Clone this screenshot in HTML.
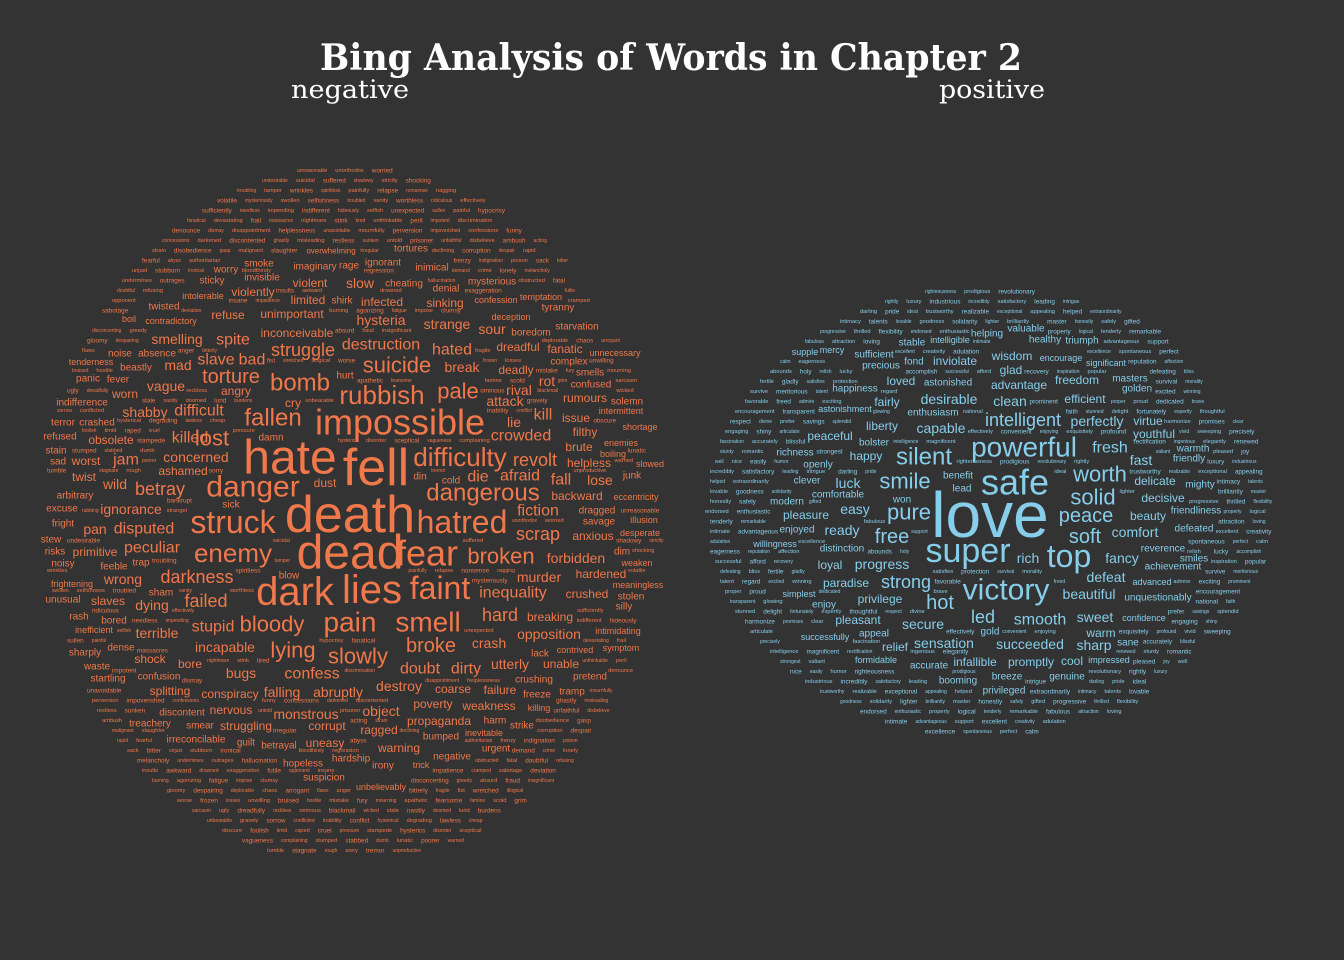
<!DOCTYPE html>
<html><head><meta charset="utf-8">
<style>
html,body{margin:0;padding:0;background:#333333;}
svg{display:block;}
</style></head>
<body>
<svg id="cloud" width="1344" height="960" viewBox="0 0 1344 960" xmlns="http://www.w3.org/2000/svg">
<rect x="0" y="0" width="1344" height="960" fill="#333333"/>
<text x="671" y="70" text-anchor="middle" textLength="702" lengthAdjust="spacingAndGlyphs" font-family="DejaVu Serif, Liberation Serif, serif" font-weight="bold" font-size="36" fill="#ffffff">Bing Analysis of Words in Chapter 2</text>
<text x="350" y="98" text-anchor="middle" textLength="118" lengthAdjust="spacingAndGlyphs" font-family="DejaVu Serif, Liberation Serif, serif" font-size="25" fill="#ffffff">negative</text>
<text x="992" y="98" text-anchor="middle" textLength="106" lengthAdjust="spacingAndGlyphs" font-family="DejaVu Serif, Liberation Serif, serif" font-size="25" fill="#ffffff">positive</text>
<g id="neg"></g>
<g id="pos"></g>
</svg>
<script>
// word, x, y, size
const negWords = [
["death",350,515,52],["dead",350,553,48],["hate",290,458,48],["fell",376,468,52],["impossible",400,422,36],
["dark",295,592,40],["lies",372,590,40],["fear",427,553,36],["hatred",462,522,32],["struck",233,522,32],
["danger",253,487,30],["pain",350,622,28],["smell",428,622,28],["faint",440,588,32],["difficulty",460,457,26],
["dangerous",483,493,24],["rubbish",382,395,26],["bomb",300,383,24],["suicide",397,365,22],["fallen",273,418,24],
["enemy",233,553,26],["bloody",272,624,22],["lying",293,650,22],["slowly",358,656,22],["broken",501,556,22],
["torture",231,377,20],["struggle",303,350,18],["destruction",381,345,16],["pale",458,391,22],
["killed",190,438,16],["lost",212,438,22],["concerned",196,457,14],["jam",126,460,16],["worst",86,461,12],["sad",58,462,10],
["obsolete",111,440,12],["ashamed",183,471,12],["wild",115,484,14],["betray",160,489,18],["twist",84,477,12],["ignorance",131,509,14],
["sick",231,505,10],["pan",95,529,14],["disputed",144,529,16],["primitive",95,552,12],["peculiar",152,548,16],["wrong",123,579,14],
["darkness",197,577,18],["feeble",114,567,10],["slaves",108,601,12],["dying",152,605,14],["failed",206,601,18],["stupid",213,627,16],
["terrible",157,633,14],["incapable",225,647,14],["shock",150,659,12],["bore",190,664,12],["bugs",241,673,14],["confess",312,674,16],
["splitting",170,691,12],["falling",282,692,14],["conspiracy",230,694,12],["abruptly",338,692,14],["monstrous",306,714,14],["nervous",231,710,12],
["object",381,711,14],["uneasy",325,743,12],["smear",200,726,10],["struggling",246,726,12],["corrupt",327,726,12],["guilt",246,743,10],
["betrayal",279,746,10],["hardship",351,759,10],["irony",383,766,10],["hopeless",303,764,10],["suspicion",324,778,10],["warning",399,748,12],
["ragged",379,730,12],["poverty",433,704,12],["propaganda",439,721,12],["bumped",441,737,10],["negative",452,757,10],["doubt",420,669,16],
["dirty",466,669,16],["utterly",510,664,14],["crash",489,643,14],["broke",431,646,20],["destroy",399,686,14],["coarse",453,689,12],
["failure",500,690,12],["weakness",489,706,12],["harm",495,721,10],["strike",522,726,10],["opposition",549,634,14],["hard",500,615,18],
["breaking",550,617,12],["inequality",513,593,16],["murder",539,577,14],["crushed",587,594,12],["scrap",538,534,18],["anxious",593,536,12],
["fiction",538,511,16],["backward",577,496,12],["lose",600,480,14],["fall",561,480,16],["afraid",520,476,16],["die",478,477,16],
["revolt",535,460,18],["helpless",589,463,12],["crowded",521,436,16],["lie",514,422,14],["kill",543,415,16],["issue",576,418,12],
["filthy",585,432,12],["brute",579,447,12],["attack",505,401,14],["rival",519,390,14],["rot",547,381,14],["confused",591,385,10],
["rumours",585,398,12],["hated",452,350,16],["break",462,367,14],["dreadful",518,347,12],["deadly",516,370,12],["fanatic",565,349,12],
["strange",447,324,14],["sour",492,329,14],["sinking",445,303,12],["hysteria",381,320,14],["infected",382,302,12],["inconceivable",297,333,12],
["spite",233,340,16],["smelling",177,339,14],["slave",216,360,16],["bad",252,360,16],["mad",178,365,14],["vague",166,386,14],
["shabby",145,412,14],["difficult",199,411,16],["limited",308,300,12],["unimportant",292,314,12],["refuse",228,315,12],["violently",253,292,12],
["angry",236,391,12],["worn",125,394,12],["noise",120,354,10],["absence",157,354,10],["fever",118,380,10],["panic",88,379,10],
["hurt",345,376,10],["cry",293,403,12],["damn",271,438,10],["dust",325,483,12],["sham",161,593,10],["blow",289,576,10],
["bored",114,621,10],["rash",79,617,10],["dense",121,648,10],["sharply",85,653,10],["waste",97,667,10],["startling",108,679,10],
["confusion",159,677,10],["discontent",182,713,10],["treachery",150,724,10],["irreconcilable",196,740,10],["fright",63,524,10],["excuse",62,509,10],
["arbitrary",75,496,10],["stain",56,451,10],["refused",60,437,10],["terror",63,423,10],["crashed",97,423,10],["indifference",82,403,10],
["tenderness",91,362,9],["beastly",136,368,10],["twisted",164,307,10],["contradictory",171,321,9],["boil",129,319,9],["stew",51,540,10],
["risks",55,552,10],["noisy",63,564,10],["unusual",63,600,10],["frightening",72,584,9],["trap",141,563,10],["inefficient",94,630,9],
["smells",590,373,10],["complex",569,362,10],["unnecessary",615,353,9],["starvation",577,327,10],["boredom",531,333,10],["deception",511,317,9],
["tyranny",558,308,10],["temptation",541,297,9],["confession",496,300,9],["mysterious",492,282,10],["denial",446,289,10],["cheating",404,284,10],
["slow",360,283,14],["violent",310,283,12],["shirk",342,301,10],["sticky",212,281,10],["intolerable",203,296,9],["invisible",262,278,10],
["worry",226,270,10],["smoke",259,264,10],["imaginary",315,267,10],["rage",349,266,10],["ignorant",383,263,10],["tortures",411,249,10],
["overwhelming",331,251,8],["inimical",432,268,10],["solemn",627,402,10],["intermittent",621,411,9],["shortage",640,427,9],["enemies",621,443,9],
["boiling",613,454,9],["slowed",650,464,9],["junk",632,476,10],["eccentricity",636,497,9],["dragged",597,511,10],["savage",599,522,10],
["illusion",644,520,9],["desperate",640,533,9],["dim",622,552,10],["weaken",637,563,9],["forbidden",576,558,14],["hardened",601,574,12],
["meaningless",638,585,9],["stolen",631,597,10],["silly",624,607,10],["symptom",621,648,9],["pretend",590,677,10],["tramp",572,692,10],
["contrived",575,650,9],["unable",561,664,12],["lack",540,654,10],["crushing",534,680,10],["freeze",537,695,10],["killing",539,708,9],
["intimidating",618,631,9],["cold",451,481,10],["din",420,477,10],["inevitable",484,733,9],["urgent",496,749,10],["trick",421,765,9],["unbelievably",381,787,9]
];
const posWords = [
["love",990,515,64],["safe",1015,482,36],["super",968,551,34],["victory",1006,590,30],["powerful",1024,447,28],["top",1069,556,32],
["silent",924,457,24],["smile",905,481,22],["pure",909,512,22],["free",892,537,20],["worth",1100,474,22],["solid",1093,497,22],
["peace",1086,516,20],["soft",1085,537,20],["comfort",1135,532,14],["intelligent",1023,420,18],["strong",906,582,18],["hot",940,603,20],
["led",983,617,18],["smooth",1040,620,16],["sweet",1095,617,14],
["wisdom",1012,356,12],["glad",1011,370,12],["inviolate",955,361,12],["fond",914,362,10],["sufficient",874,355,10],["precious",881,366,10],
["loved",901,381,12],["astonished",948,383,10],["advantage",1019,385,12],["freedom",1077,380,12],["masters",1130,379,10],["golden",1137,389,10],
["desirable",949,399,14],["clean",1010,401,14],["efficient",1085,399,12],["happiness",855,389,10],["fairly",887,402,12],["enthusiasm",933,413,10],
["liberty",882,426,12],["capable",941,428,14],["perfectly",1097,421,14],["virtue",1148,421,12],["youthful",1154,434,12],["peaceful",830,436,12],
["astonishment",845,409,9],["bolster",874,443,10],["happy",866,456,12],["fresh",1110,448,16],["fast",1141,460,14],["friendly",1189,459,10],
["warmth",1193,449,10],["richness",795,453,10],["openly",818,465,10],["clever",807,481,10],["luck",848,483,14],["delicate",1155,481,12],
["mighty",1200,485,10],["comfortable",838,495,10],["modern",787,502,10],["benefit",958,476,10],["lead",962,489,10],["won",902,500,10],
["decisive",1163,498,12],["friendliness",1196,511,10],["pleasure",806,515,12],["easy",855,509,14],["enjoyed",797,530,10],["ready",842,530,14],
["beauty",1148,516,12],["defeated",1194,529,10],["distinction",842,549,10],["reverence",1163,549,10],["smiles",1194,559,10],["loyal",830,565,12],
["progress",882,564,14],["fancy",1122,558,14],["achievement",1173,567,10],["rich",1028,558,14],["willingness",775,544,9],["paradise",846,583,12],
["defeat",1106,577,14],["advanced",1152,582,9],["beautiful",1089,594,14],["simplest",799,594,9],["privilege",880,599,12],["enjoy",824,605,10],
["unquestionably",1158,598,10],["pleasant",858,620,12],["secure",923,624,14],["confidence",1144,618,9],["warm",1101,633,12],["appeal",874,634,10],
["relief",895,647,12],["sensation",944,643,14],["succeeded",1030,644,14],["sharp",1094,645,14],["sane",1128,643,10],["gold",990,632,10],
["successfully",825,637,9],["formidable",876,660,9],["accurate",929,666,10],["infallible",975,662,12],["promptly",1031,662,12],["cool",1072,661,12],
["impressed",1109,660,9],["booming",958,681,10],["breeze",1007,677,10],["genuine",1067,677,10],["privileged",1004,691,10],["stable",912,343,10],
["intelligible",950,340,9],["helping",987,334,10],["valuable",1026,329,10],["healthy",1045,340,10],["triumph",1082,341,10],["encourage",1061,358,9],
["significant",1106,363,9],["supple",805,352,9],["mercy",832,350,9]
];
const negFiller = ["unreasonable","unorthodox","worried","undesirable","suicidal","suffered","shadowy","strictly","shocking","troubling","tamper","wrinkles","spiritless","painfully","relapse","nonsense","nagging","volatile","mysteriously","swollen","selfishness","troubled","vanity","worthless","ridiculous","effectively","sufficiently","needless","impending","indifferent","hideously","selfish","unexpected","sullen","painful","hypocrisy","fanatical","devastating","frail","massacres","nightmare","stink","tired","unthinkable","peril","impotent","discrimination","denounce","dismay","disappointment","helplessness","unavoidable","mournfully","perversion","impoverished","confessions","funny","concessions","darkened","discontented","ghastly","misleading","restless","sunken","untold","prisoner","unfaithful","disbelieve","ambush","acting","strain","disobedience","gasp","malignant","slaughter","irregular","declining","corruption","despair","rapid","fearful","abyss","authoritarian","frenzy","indignation","poison","sack","bitter","unjust","stubborn","ironical","bloodthirsty","regression","demand","crime","lonely","melancholy","undermines","outrages","hallucination","obstructed","fatal","doubtful","refusing","insults","awkward","drowned","exaggeration","futile","opponent","insane","impatience","cramped","sabotage","deviation","burning","agonizing","fatigue","impose","clumsy","disconcerting","greedy","absurd","fraud","insignificant","gloomy","despairing","deplorable","chaos","arrogant","flaws","anger","bitterly","fragile","fist","wretched","illogical","worse","frozen","losses","unwilling","bruised","hostile","mistake","fury","mourning","apathetic","fearsome","famine","scold","grim","sarcasm","ugly","dreadfully","reckless","ominous","blackmail","wicked","stale","nastily","doomed","lurid","burdens","unbearable","gravely","sorrow","conflicted","inability","conflict","hysterical","degrading","lawless","cheap","obscure","foolish","timid","raped","cruel","pressure","stampede","hysterics","disorder","sceptical","vagueness","complaining","stumped","stabbed","dumb","lunatic","poorer","warned","tumble","stagnate","rough","sorry","tremor","unproductive","bankrupt","rubbing","stranger"];
const posFiller = ["righteousness","prodigious","revolutionary","rightly","luxury","industrious","incredibly","satisfactory","leading","intrigue","darling","pride","ideal","trustworthy","realizable","exceptional","appealing","helped","extraordinarily","intimacy","talents","lovable","goodness","solidarity","lighter","brilliantly","master","honestly","safely","gifted","progressive","thrilled","flexibility","endorsed","enthusiastic","properly","logical","tenderly","remarkable","fabulous","attraction","loving","intimate","advantageous","support","excellent","creativity","adulation","excellence","spontaneous","perfect","calm","eagerness","reputation","affection","abounds","holy","relish","lucky","accomplish","successful","afford","recovery","inspiration","popular","defeating","bliss","fertile","gladly","satisfies","protection","survival","morality","survive","meritorious","talent","regard","excited","winning","favorable","freed","admire","exciting","prominent","proper","proud","dedicated","brave","encouragement","transparent","glowing","national","faith","stunned","delight","fortunately","expertly","thoughtful","respect","divine","prefer","savings","splendid","harmonize","promises","clear","engaging","shiny","articulate","effectively","convenient","enjoying","exquisitely","profound","vivid","sweeping","precisely","fascination","accurately","blissful","intelligence","magnificent","rectification","ingenious","elegantly","renewed","sturdy","romantic","strongest","valiant","pleased","joy","well","nice","easily","humor"];

function fontStr(s){return s+'px "Liberation Sans", sans-serif';}
const ctx=document.createElement('canvas').getContext('2d');
function w(t,s){ctx.font=fontStr(s);return ctx.measureText(t).width;}

function placeGroup(gid,words,filler,color,cx,cy,rx,ry,nameBase){
  const g=document.getElementById(gid);
  const boxes=[];
  function add(t,x,y,s){
    const el=document.createElementNS('http://www.w3.org/2000/svg','text');
    el.setAttribute('x',x);el.setAttribute('y',y);
    el.setAttribute('font-size',s);
    el.setAttribute('font-family','"Liberation Sans", sans-serif');
    el.setAttribute('fill',color);
    el.setAttribute('text-anchor','middle');
    el.setAttribute('dominant-baseline','central');
    
    
    el.textContent=t;
    g.appendChild(el);
  }
  words.forEach(([t,x,y,s])=>{
    const ww=w(t,s);
    boxes.push([x-ww/2-1,y-s*0.42,x+ww/2+1,y+s*0.42]);
    add(t,x,y,s);
  });
  let fi=0;
  const step=10;
  for(let y=cy-ry+6;y<cy+ry-4;y+=step){
    let x=cx-rx;
    while(x<cx+rx){
      const t=filler[fi%filler.length];
      const s=5+((fi*7)%3)*0.7;
      const ww=w(t,s);
      const b=[x,y-s*0.45,x+ww,y+s*0.45];
      const inE=pt=>((pt[0]-cx)/rx)**2+((pt[1]-cy)/ry)**2<=1;
      const ok=inE([b[0],y])&&inE([b[2],y])&&!boxes.some(o=>!(b[2]<o[0]||b[0]>o[2]||b[3]<o[1]||b[1]>o[3]));
      if(ok){
        boxes.push([b[0]-4,b[1],b[2]+4,b[3]]);
        add(t,x+ww/2,y,s);
        fi++;
        x+=ww+8;
      } else x+=5;
    }
  }
}
placeGroup('neg',negWords,negFiller,'#f0784b',354,515,312,350,'negative-word');
placeGroup('pos',posWords,posFiller,'#87ceeb',990,512,285,226,'positive-word');
</script>
</body></html>
